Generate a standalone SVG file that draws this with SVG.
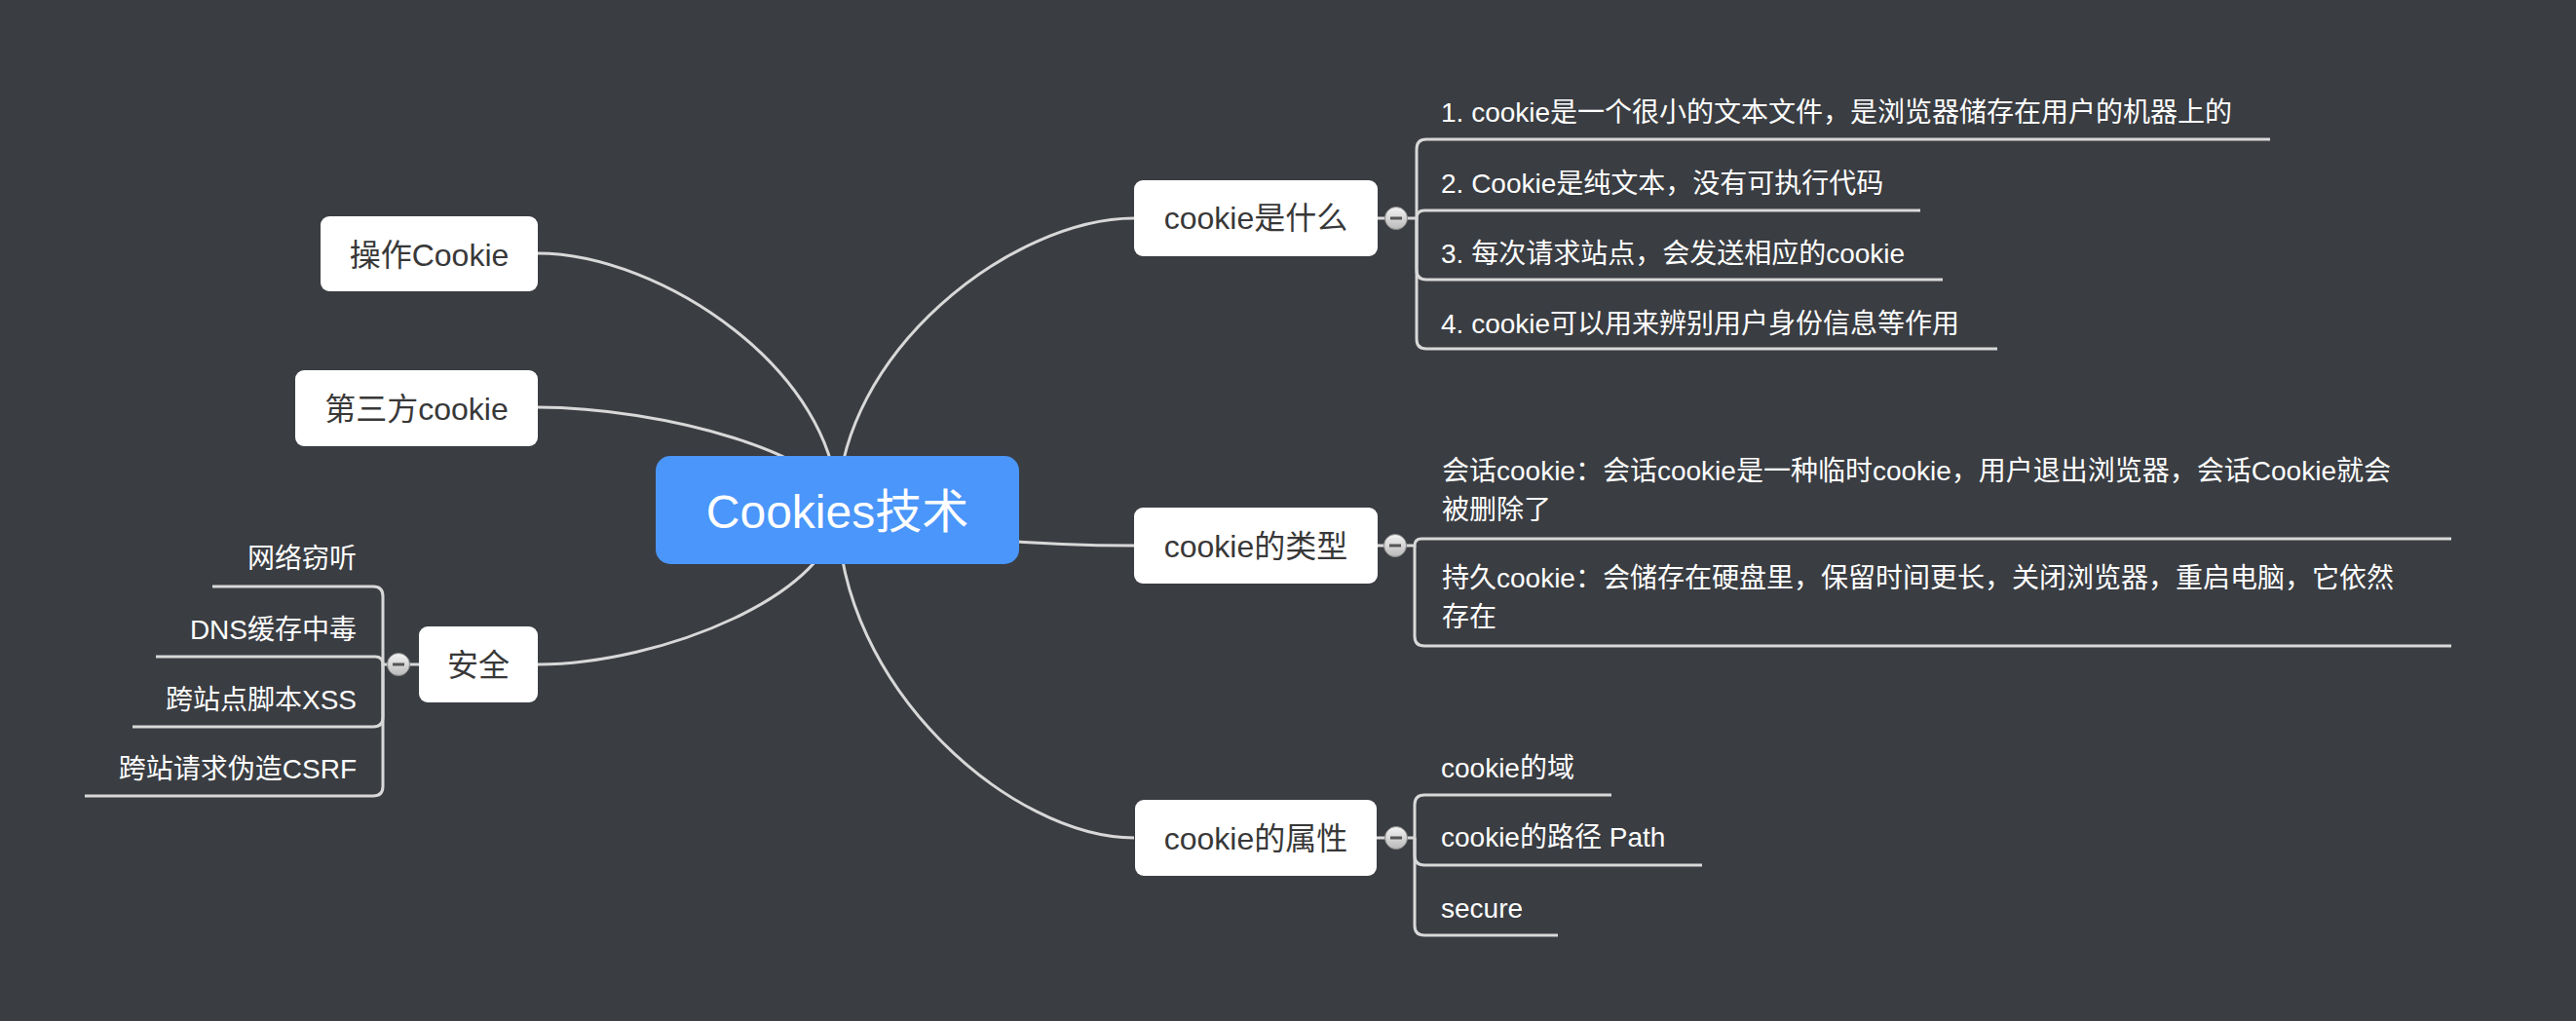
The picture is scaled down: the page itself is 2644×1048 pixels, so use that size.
<svg xmlns="http://www.w3.org/2000/svg" width="2644" height="1048" viewBox="0 0 2644 1048">
<defs>
<linearGradient id="btn" x1="0" y1="0" x2="0" y2="1">
<stop offset="0" stop-color="#f4f4f4"/>
<stop offset="1" stop-color="#b9b9b9"/>
</linearGradient>
<g id="minus">
<circle r="11.5" fill="url(#btn)" stroke="#8a8a8a" stroke-width="1"/>
<rect x="-6" y="-1.5" width="12" height="3" fill="#555"/>
</g>
</defs>
<style>
.bg{fill:#3a3d42}
.ln{fill:none;stroke:#d8d8d8;stroke-width:3;stroke-linecap:butt}
.box{fill:#ffffff}
.t1{font-family:"Liberation Sans","Noto Sans CJK SC",sans-serif;font-size:32px;fill:#383838;text-anchor:middle}
.t0{font-family:"Liberation Sans","Noto Sans CJK SC",sans-serif;font-size:48px;fill:#ffffff;text-anchor:middle}
.t2{font-family:"Liberation Sans","Noto Sans CJK SC",sans-serif;font-size:28px;fill:#ffffff}
.te{text-anchor:end}
</style>
<rect class="bg" x="0" y="0" width="2644" height="1048"/>

<g id="connectors">
<path class="ln" d="M860,523 C860,381 678,260 552,260"/>
<path class="ln" d="M860,523 C860,467 678,418 552,418"/>
<path class="ln" d="M860,523 C860,609 678,682 552,682"/>
<path class="ln" d="M860,523 C860,362 1039,224 1164,224"/>
<path class="ln" d="M860,523 C860,543 1039,560 1164,560"/>
<path class="ln" d="M860,523 C860,705 1039,860 1164,860"/>
<!-- cookie是什么 branches -->
<path class="ln" d="M1414,224 H1454 V153 Q1454,143 1464,143 H2330"/>
<path class="ln" d="M1454,224 Q1454,216 1462,216 H1971"/>
<path class="ln" d="M1454,224 V277 Q1454,287 1464,287 H1994"/>
<path class="ln" d="M1454,224 V348 Q1454,358 1464,358 H2050"/>
<!-- cookie的类型 branches -->
<path class="ln" d="M1414,560 H1452 Q1452,553 1459,553 H2516"/>
<path class="ln" d="M1452,560 V653 Q1452,663 1462,663 H2516"/>
<!-- cookie的属性 branches -->
<path class="ln" d="M1413,860 H1452 V826 Q1452,816 1462,816 H1654"/>
<path class="ln" d="M1452,860 V878 Q1452,888 1462,888 H1747"/>
<path class="ln" d="M1452,860 V950 Q1452,960 1462,960 H1599"/>
<!-- 安全 branches -->
<path class="ln" d="M430,682 H393 V612 Q393,602 383,602 H218"/>
<path class="ln" d="M393,682 Q393,674 385,674 H160"/>
<path class="ln" d="M393,682 V736 Q393,746 383,746 H136"/>
<path class="ln" d="M393,682 V807 Q393,817 383,817 H87"/>
</g>

<g id="central">
<rect x="673" y="468" width="373" height="111" rx="15" fill="#4a96fa"/>
<text class="t0" x="859.5" y="542">Cookies技术</text>
</g>

<g id="node-caozuo">
<rect class="box" x="329" y="222" width="223" height="77" rx="9"/>
<text class="t1" x="440.5" y="273">操作Cookie</text>
</g>
<g id="node-disanfang">
<rect class="box" x="303" y="380" width="249" height="78" rx="9"/>
<text class="t1" x="427.5" y="431">第三方cookie</text>
</g>
<g id="node-anquan">
<rect class="box" x="430" y="643" width="122" height="78" rx="9"/>
<text class="t1" x="491" y="694">安全</text>
<use href="#minus" x="409" y="682"/>
</g>
<g id="node-shishenme">
<rect class="box" x="1164" y="185" width="250" height="78" rx="9"/>
<text class="t1" x="1289" y="235">cookie是什么</text>
<use href="#minus" x="1433" y="224"/>
</g>
<g id="node-leixing">
<rect class="box" x="1164" y="521" width="250" height="78" rx="9"/>
<text class="t1" x="1289" y="572">cookie的类型</text>
<use href="#minus" x="1432" y="560"/>
</g>
<g id="node-shuxing">
<rect class="box" x="1165" y="821" width="248" height="78" rx="9"/>
<text class="t1" x="1289" y="872">cookie的属性</text>
<use href="#minus" x="1433" y="860"/>
</g>

<g id="leaf-what-1"><text class="t2" x="1479" y="125">1. cookie是一个很小的文本文件，是浏览器储存在用户的机器上的</text></g>
<g id="leaf-what-2"><text class="t2" x="1479" y="198">2. Cookie是纯文本，没有可执行代码</text></g>
<g id="leaf-what-3"><text class="t2" x="1479" y="270">3. 每次请求站点，会发送相应的cookie</text></g>
<g id="leaf-what-4"><text class="t2" x="1479" y="342">4. cookie可以用来辨别用户身份信息等作用</text></g>

<g id="leaf-type-1">
<text class="t2" x="1480" y="493">会话cookie：会话cookie是一种临时cookie，用户退出浏览器，会话Cookie就会</text>
<text class="t2" x="1480" y="533">被删除了</text>
</g>
<g id="leaf-type-2">
<text class="t2" x="1480" y="603">持久cookie：会储存在硬盘里，保留时间更长，关闭浏览器，重启电脑，它依然</text>
<text class="t2" x="1480" y="643">存在</text>
</g>

<g id="leaf-attr-1"><text class="t2" x="1479" y="798">cookie的域</text></g>
<g id="leaf-attr-2"><text class="t2" x="1479" y="869">cookie的路径 Path</text></g>
<g id="leaf-attr-3"><text class="t2" x="1479" y="942">secure</text></g>

<g id="leaf-sec-1"><text class="t2 te" x="366" y="583">网络窃听</text></g>
<g id="leaf-sec-2"><text class="t2 te" x="366" y="656">DNS缓存中毒</text></g>
<g id="leaf-sec-3"><text class="t2 te" x="366" y="728">跨站点脚本XSS</text></g>
<g id="leaf-sec-4"><text class="t2 te" x="366" y="799">跨站请求伪造CSRF</text></g>
</svg>
